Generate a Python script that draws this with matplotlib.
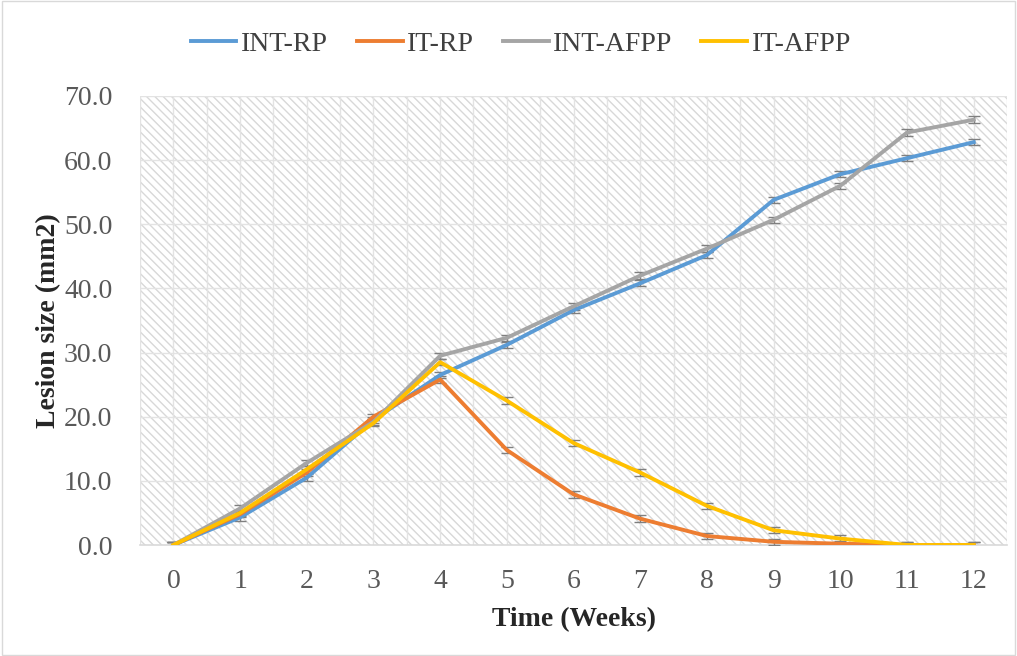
import numpy as np
import matplotlib.pyplot as plt
from matplotlib.patches import Rectangle

plt.rcParams['font.family'] = ['Liberation Serif', 'DejaVu Serif']
plt.rcParams['hatch.color'] = '#d8d8d8'
plt.rcParams['hatch.linewidth'] = 1.0

weeks = np.arange(13)
int_rp = [0, 4.3, 10.5, 19.5, 26.5, 31.2, 36.6, 40.8, 45.2, 53.8, 57.8, 60.3, 62.8]
it_rp = [0, 4.8, 11.3, 20.0, 25.8, 14.8, 7.9, 4.1, 1.4, 0.5, 0.2, 0.0, 0.0]
int_afpp = [0, 5.7, 12.8, 19.2, 29.5, 32.3, 37.2, 42.0, 46.2, 50.7, 56.0, 64.3, 66.3]
it_afpp = [0, 5.0, 11.8, 19.0, 28.5, 22.5, 15.9, 11.3, 6.1, 2.3, 1.0, 0.0, 0.0]
err = 0.5

series = [
    ('INT-RP', int_rp, '#5b9bd5'),
    ('IT-RP', it_rp, '#ed7d31'),
    ('INT-AFPP', int_afpp, '#a5a5a5'),
    ('IT-AFPP', it_afpp, '#ffc000'),
]

fig = plt.figure(figsize=(10.17, 6.56), dpi=100)
fig.patches.append(Rectangle((0.002, 0.002), 0.996, 0.996, transform=fig.transFigure,
                             fill=False, edgecolor='#d9d9d9', lw=1))
ax = fig.add_axes([0.1377, 0.1692, 0.8525, 0.6845])

# hatched background
ax.add_patch(Rectangle((0, 0), 1, 1, transform=ax.transAxes, facecolor='white',
                       hatch='\\\\\\\\', edgecolor='#d8d8d8', lw=0, zorder=0))

for x in np.arange(-0.5, 12.6, 0.5):
    ax.axvline(x, color='#e3e3e3', lw=1, zorder=1)
for y in range(10, 71, 10):
    ax.axhline(y, color='#e3e3e3', lw=1, zorder=1)

for name, vals, col in series:
    ax.errorbar(weeks, vals, yerr=err, color=col, lw=2.8, label=name,
                ecolor='#7f7f7f', elinewidth=1, capsize=4, capthick=1, zorder=3)

ax.set_xlim(-0.5, 12.5)
ax.set_ylim(0, 70)
ax.set_xticks(weeks)
ax.set_yticks(range(0, 71, 10))
ax.set_yticklabels([f'{v:.1f}' for v in range(0, 71, 10)])
ax.tick_params(axis='both', labelsize=20, colors='#595959', length=0)
ax.tick_params(axis='x', pad=17)
ax.tick_params(axis='y', pad=20)
for s in ['top', 'right', 'left']:
    ax.spines[s].set_visible(False)
ax.spines['bottom'].set_color('#d9d9d9')
ax.spines['bottom'].set_linewidth(1.2)

ax.set_xlabel('Time (Weeks)', fontsize=20, fontweight='bold', color='#262626', labelpad=10)
ax.set_ylabel('Lesion size (mm2)', fontsize=20, fontweight='bold', color='#262626', labelpad=2)

handles = [plt.Line2D([], [], color=c, lw=2.8) for _, _, c in series]
fig.legend(handles, [n for n, _, _ in series], loc='upper center', bbox_to_anchor=(0.512, 0.99),
           ncol=4, frameon=False, fontsize=20, handlelength=1.65, columnspacing=1.05,
           handletextpad=0.15, labelcolor='#404040')

fig.savefig('out.png', dpi=100)
